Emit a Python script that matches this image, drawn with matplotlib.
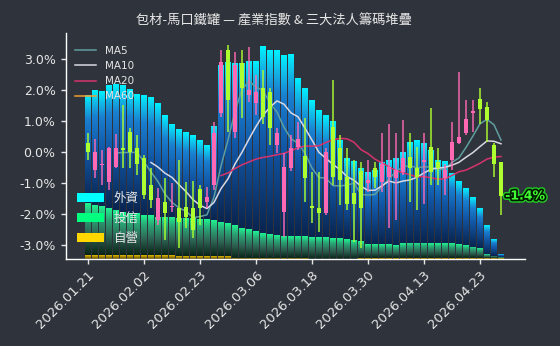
import numpy as np
import pandas as pd
import matplotlib
matplotlib.use('Agg')
import matplotlib.pyplot as plt
from matplotlib.colors import LinearSegmentedColormap
from matplotlib.patches import Patch
from matplotlib.ticker import FuncFormatter
import matplotlib.patheffects as pe

# ---------------- data ----------------
dates = ['2026.01.21', '2026.01.22', '2026.01.23', '2026.01.26', '2026.01.27', '2026.01.28',
         '2026.01.29', '2026.01.30', '2026.02.02', '2026.02.03', '2026.02.04', '2026.02.05',
         '2026.02.06', '2026.02.09', '2026.02.10', '2026.02.11', '2026.02.23', '2026.02.24',
         '2026.02.25', '2026.02.26', '2026.03.02', '2026.03.03', '2026.03.04', '2026.03.05',
         '2026.03.06', '2026.03.09', '2026.03.10', '2026.03.11', '2026.03.12', '2026.03.13',
         '2026.03.16', '2026.03.17', '2026.03.18', '2026.03.19', '2026.03.20', '2026.03.23',
         '2026.03.24', '2026.03.25', '2026.03.26', '2026.03.27', '2026.03.30', '2026.03.31',
         '2026.04.01', '2026.04.02', '2026.04.07', '2026.04.08', '2026.04.09', '2026.04.10',
         '2026.04.13', '2026.04.14', '2026.04.15', '2026.04.16', '2026.04.17', '2026.04.20',
         '2026.04.21', '2026.04.22', '2026.04.23', '2026.04.24', '2026.04.27', '2026.04.28']

open_ = [0.28, -0.58, -0.42, -0.98, -0.47, 0.12, 0.66, 0.12, -0.20, -1.06,
         -2.19, -1.60, -1.78, -1.80, -1.76, -1.82, -1.19, -1.60, -1.06, 1.25,
         3.29, 0.66, 2.86, 1.85, 1.57, 2.05, 1.95, 0.23, -1.92, -0.53,
         0.17, -0.12, -1.75, -1.80, -1.98, 0.82, 0.12, -0.80, -1.33, -0.61,
         -1.01, -0.51, -0.96, -0.80, -0.85, -0.63, -0.15, -0.51, -0.31, 0.17,
         -0.31, -0.85, -0.26, 0.30, 0.62, 1.25, 1.70, 1.44, 0.23, -0.31]
high = [0.60, 0.42, 0.06, 0.17, 0.57, 1.52, 0.76, 0.55, -0.10, -0.53,
        -1.17, -0.85, -1.01, -0.26, -0.96, -0.94, -1.06, -1.12, 0.96, 3.29,
        3.45, 3.24, 3.29, 3.40, 2.48, 2.65, 2.05, 0.76, -0.04, 0.55,
        0.98, 1.09, -0.63, -0.63, 0.12, 2.32, 0.55, 0.12, -0.26, -0.31,
        -0.26, -0.31, 0.60, 0.92, 0.60, 1.03, 0.60, 0.17, 0.60, 1.41,
        0.12, -0.37, 0.98, 2.59, 1.68, 1.68, 2.05, 1.62, 0.28, -0.31]
low = [-0.26, -0.85, -1.06, -1.23, -0.53, -0.53, -0.53, -0.74, -1.52, -1.82,
       -2.35, -2.84, -1.92, -3.10, -2.46, -2.78, -2.35, -1.82, -1.23, 1.14,
       0.66, 0.44, 1.09, 1.60, 1.19, 0.92, 0.23, -0.04, -2.73, -0.60,
       0.06, -1.60, -2.30, -2.57, -2.03, -1.06, -1.71, -1.87, -2.89, -3.10,
       -1.28, -1.17, -1.28, -2.46, -2.19, -0.74, -1.60, -1.87, -1.66, -1.06,
       -1.06, -1.39, -0.58, 0.25, 0.55, 0.66, 0.92, 0.33, -0.80, -2.03]
close = [-0.01, -0.01, -0.37, 0.12, 0.12, 0.06, 0.01, -0.37, -1.37, -1.55,
         -1.49, -1.98, -1.73, -2.25, -2.09, -2.52, -1.82, -1.44, 0.60, 2.91,
         1.68, 2.81, 2.05, 2.00, 1.95, 1.14, 0.76, 0.60, -0.47, 0.12,
         0.41, -0.85, -1.80, -1.98, 0.01, -0.80, -0.90, -1.66, -1.66, -1.82,
         -0.90, -0.80, -0.37, -0.47, -0.58, -0.20, -0.53, -0.80, -0.26, -0.63,
         -0.53, -0.58, 0.33, 0.47, 1.05, 1.33, 1.38, 1.03, -0.39, -1.42]

# 三大法人 holdings (千張)
foreign = [108, 115, 114.3, 122.3, 125.7, 127, 123.5, 118.7, 120, 117.3,
           113.4, 101.7, 92.4, 88.4, 85.7, 82.6, 78.5, 74, 94, 156.7,
           160.3, 162, 165, 167.3, 169.3, 186.3, 184, 185, 181, 181.7,
           157.7, 147.7, 136.5, 127, 122, 116.5, 98, 81, 79, 73,
           72, 74, 82, 84, 87, 91, 100.7, 102.7, 99.7, 93,
           83, 82, 70, 63, 57, 49.7, 40, 29, 16.3, 3]
trust = [52, 50, 49, 47, 45, 43, 42.5, 42, 40, 40,
         38.3, 38.3, 38.3, 38.3, 38, 37.7, 37.5, 37, 36, 34.3,
         32.7, 32.5, 29.5, 28.5, 26.5, 24.5, 23.5, 22.5, 21.5, 21.5,
         21.5, 21.5, 22, 21.5, 21.5, 21, 20.5, 19.5, 18.5, 17,
         14, 14, 14, 14, 13, 15, 15.3, 15.3, 15.3, 15,
         15, 15, 15, 14, 13, 11.3, 10, 4, 2.3, 1]
dealer = [4, 4, 4, 4, 4, 4, 4, 4, 4, 4,
          4, 4, 4, 3, 3, 3, 3, 3, 3, 3,
          3, 1.5, 1.5, 1.5, 1.5, 1.5, 1.5, 1.5, 1.5, 1.5,
          1.5, 1.5, 0.5, 0.5, 0.5, 0.5, 0.5, 0.5, 0.5, 1,
          1, 1, 1, 1, 1, 1, 1, 1, 1, 1,
          1, 1, 1, 1, 1, 1, 1, 1, 1, 1]

ma_windows = [5, 10, 20, 60]
ma_colors = ['#5f9ea0', '#d8d8e4', '#d6336c', '#f0a030']
inst_labels = ['外資', '投信', '自營']
inst_colors = ['#00ffff', '#00ff7f', '#ffd700']
title = '包材-馬口鐵罐 — 產業指數 & 三大法人籌碼堆疊'

# ---------------- style ----------------
BG = '#2f343c'
UP = '#ff69b4'
DN = '#adff2f'
TXT = '#e6e6e6'
CJK = ['Noto Sans CJK TC', 'DejaVu Sans']

fig = plt.figure(figsize=(5.6, 3.46), dpi=100, facecolor=BG)
ax = fig.add_axes([66 / 560, 1 - 259 / 346, (525 - 66) / 560, (259 - 33) / 346])
ax2 = ax.twinx()
ax.set_zorder(ax2.get_zorder() + 1)
ax.patch.set_visible(False)

n = len(close)
x = np.arange(n)

# gradient stacked bars
cm_f = LinearSegmentedColormap.from_list('f', [(0, '#0a2550'), (0.5, '#1258a8'), (0.78, '#1a7fd0'),
                                               (0.92, '#10c4ec'), (1, '#00f0ff')])
cm_t = LinearSegmentedColormap.from_list('t', [(0, '#0a2418'), (0.4, '#2d6453'), (0.75, '#2aa676'),
                                               (1, '#1ff290')])
cm_d = LinearSegmentedColormap.from_list('d', [(0, '#5a4800'), (1, '#e0b800')])
grad = np.linspace(0, 1, 64).reshape(-1, 1)
W = 0.78


def gbar(xc, bottom, height, cmap):
    if height <= 0:
        return
    ax2.imshow(grad, cmap=cmap, origin='lower', aspect='auto', interpolation='bilinear',
               extent=(xc - W / 2, xc + W / 2, bottom, bottom + height), zorder=1)


for i in range(n):
    b = 0.0
    for val, cm in ((dealer[i], cm_d), (trust[i], cm_t), (foreign[i], cm_f)):
        gbar(x[i], b, val, cm)
        b += val

ax2.set_ylim(0, 226)
ax2.set_yticks([])
for s in ax2.spines.values():
    s.set_visible(False)

# moving averages
cs = pd.Series(close)
for w, c in zip(ma_windows, ma_colors):
    ax.plot(x, cs.rolling(w).mean(), color=c, lw=1.1, label=f'MA{w}', zorder=2.5)

# candles
o = np.array(open_); c_ = np.array(close); h = np.array(high); l = np.array(low)
cols = np.where(c_ >= o, UP, DN)
ax.vlines(x, l, h, colors=cols, lw=1.3, alpha=0.8, zorder=3)
bot = np.minimum(o, c_)
hgt = np.maximum(np.abs(c_ - o), 0.05)
ax.bar(x, hgt, bottom=bot, width=0.7, color=cols, zorder=4)

# last value label
ax.text(x[-1] + 0.6, close[-1], f'{close[-1]:.1f}%', color='#44ff33', fontsize=9,
        fontweight='bold', ha='left', va='center', zorder=6, clip_on=False,
        path_effects=[pe.Stroke(linewidth=4.5, foreground='#22cc22'),
                      pe.Stroke(linewidth=2.5, foreground='#001a00'), pe.Normal()])

# axes
ax.set_xlim(-3.14, 62.43)
ax.set_ylim(-3.45, 3.84)
ax.set_yticks([-3, -2, -1, 0, 1, 2, 3])
ax.yaxis.set_major_formatter(FuncFormatter(lambda v, _: f'{v:.1f}%'))
ax.set_xticks(x[::8])
ax.set_xticklabels(dates[::8], rotation=45, ha='right', rotation_mode='anchor', fontsize=9.5)
ax.tick_params(axis='both', colors=TXT, length=3.5, width=1)
ax.tick_params(axis='y', labelsize=9, pad=4)
for s in ('top', 'right'):
    ax.spines[s].set_visible(False)
for s in ('left', 'bottom'):
    ax.spines[s].set_color('white')
    ax.spines[s].set_linewidth(1)

# legends
leg1 = ax.legend(loc='upper left', bbox_to_anchor=(0, 0.985), frameon=False, fontsize=7.5,
                 labelcolor=TXT)
ax.add_artist(leg1)
handles = [Patch(facecolor=c) for c in inst_colors]
ax.legend(handles, inst_labels, loc='lower left', bbox_to_anchor=(0, 0.012), frameon=False,
          prop={'family': CJK, 'size': 9}, labelcolor=TXT, handlelength=2.1, handleheight=0.72,
          labelspacing=0.56)

fig.text(274 / 560, 1 - 21 / 346, title, ha='center', va='center', fontsize=9.5, color=TXT,
         family=CJK)

fig.savefig('out.png', dpi=100, facecolor=BG)
